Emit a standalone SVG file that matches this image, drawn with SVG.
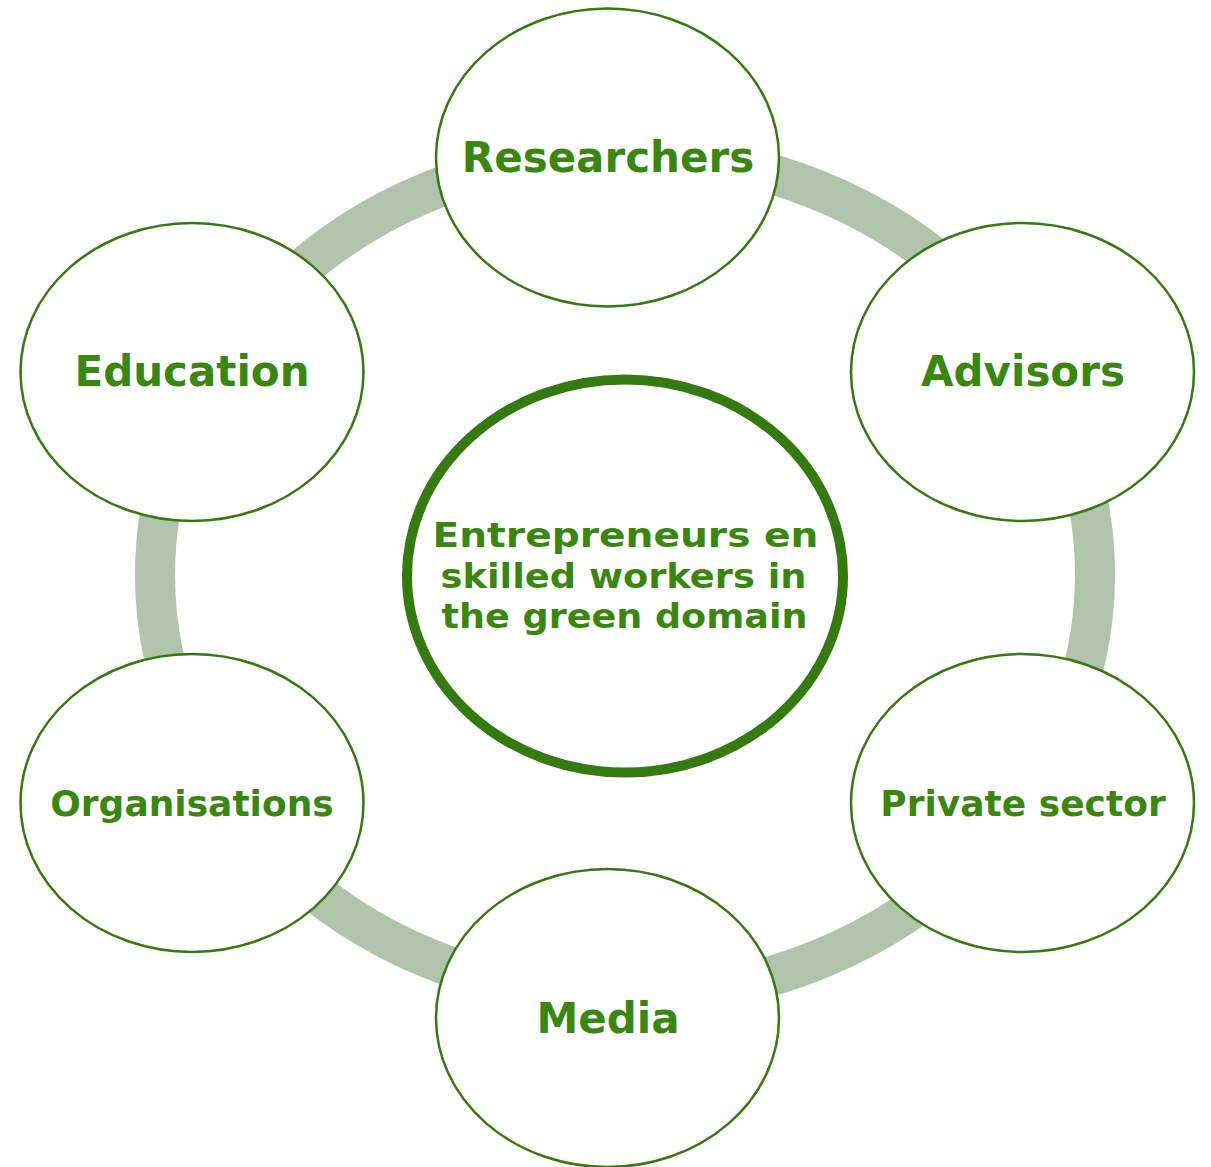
<svg xmlns="http://www.w3.org/2000/svg" width="1211" height="1167" viewBox="0 0 1211 1167">
<style>
.node{fill:#ffffff;stroke:#347a0e;stroke-width:2.5}
.lbl{font-family:"DejaVu Sans",Verdana,sans-serif;font-weight:bold;fill:#3a870f;text-anchor:middle}
.big{font-size:42px}
.mid{font-size:36px}
</style>
<rect width="1211" height="1167" fill="#ffffff"/>
<g id="connectors">
<ellipse cx="625" cy="575" rx="470" ry="422" fill="none" stroke="#afc4ab" stroke-width="40"/>
</g>
<g id="center">
<ellipse cx="625" cy="576" rx="218" ry="196.5" fill="#ffffff" stroke="#347a0e" stroke-width="10"/>
<text class="lbl" font-size="34"><tspan x="625.5" y="547" textLength="386" lengthAdjust="spacingAndGlyphs">Entrepreneurs en</tspan></text>
<text class="lbl" font-size="34"><tspan x="623.5" y="588" textLength="366" lengthAdjust="spacingAndGlyphs">skilled workers in</tspan></text>
<text class="lbl" font-size="34"><tspan x="624.5" y="628" textLength="366" lengthAdjust="spacingAndGlyphs">the green domain</tspan></text>
</g>
<g id="researchers">
<ellipse class="node" cx="607.5" cy="157.5" rx="171.5" ry="149"/>
<text class="lbl big" x="608" y="172">Researchers</text>
</g>
<g id="advisors">
<ellipse class="node" cx="1022.5" cy="372" rx="171.5" ry="149"/>
<text class="lbl big" x="1023" y="386">Advisors</text>
</g>
<g id="private-sector">
<ellipse class="node" cx="1022.5" cy="803" rx="171.5" ry="149"/>
<text class="lbl mid" x="1023" y="816">Private sector</text>
</g>
<g id="media">
<ellipse class="node" cx="607.5" cy="1018" rx="171.5" ry="149"/>
<text class="lbl big" x="608" y="1033">Media</text>
</g>
<g id="organisations">
<ellipse class="node" cx="192" cy="803" rx="171.5" ry="149"/>
<text class="lbl mid" x="192" y="816">Organisations</text>
</g>
<g id="education">
<ellipse class="node" cx="192" cy="372" rx="171.5" ry="149"/>
<text class="lbl big" x="192" y="386">Education</text>
</g>
</svg>
